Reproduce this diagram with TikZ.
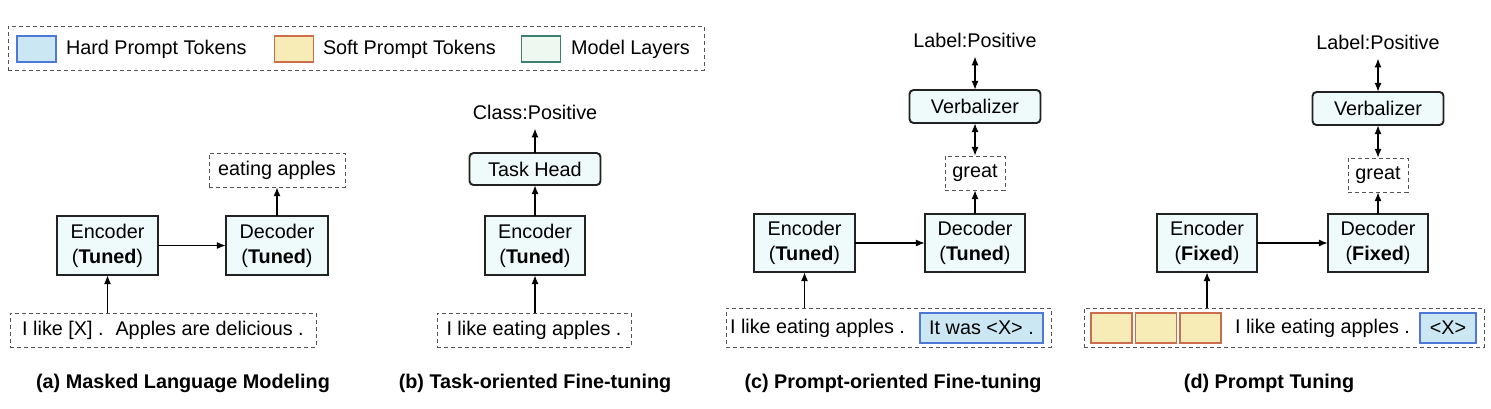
\documentclass[tikz,border=0pt]{standalone}
\usepackage{fontspec}
\setmainfont{Liberation Sans}
\usetikzlibrary{arrows.meta}
\definecolor{layerfill}{HTML}{EEFBFA}
\definecolor{layeredge}{HTML}{222222}
\definecolor{legfill}{HTML}{EEF8F1}
\definecolor{legedge}{HTML}{3F7F72}
\definecolor{hardfill}{HTML}{CBE7F4}
\definecolor{hardedge}{HTML}{4D78D6}
\definecolor{softfill}{HTML}{F7ECB5}
\definecolor{softedge}{HTML}{CC6E4E}
\definecolor{dashgray}{HTML}{555555}
\begin{document}
\begin{tikzpicture}[x=0.5pt,y=-0.5pt,
  every node/.style={font=\fontsize{9.9pt}{12.5pt}\selectfont, inner sep=0pt, outer sep=0pt},
  layer/.style={draw=layeredge, fill=layerfill, line width=0.95pt, align=center},
  headbox/.style={layer, rounded corners=2pt},
  dbox/.style={draw=dashgray, dash pattern=on 2pt off 1.5pt, line width=0.5pt},
  hard/.style={draw=hardedge, fill=hardfill, line width=0.9pt},
  soft/.style={draw=softedge, fill=softfill, line width=0.9pt},
  legl/.style={draw=legedge, fill=legfill, line width=0.9pt},
  labeltxt/.style={outer sep=4.5pt},
  arr/.style={-{Latex[length=4.6pt,width=3.6pt]}, line width=0.9pt},
  darr/.style={{Latex[length=4.6pt,width=3.6pt]}-{Latex[length=4.6pt,width=3.6pt]}, line width=0.9pt},
  captxt/.style={font=\fontsize{9.9pt}{12pt}\selectfont\bfseries}
]
\useasboundingbox (0,0) rectangle (1491,408);

% legend
\node[dbox, minimum width=348pt, minimum height=22pt] (legend) at (356,48) {};
\node[hard, minimum width=19.5pt, minimum height=13pt] (lhard) at (36.5,49) {};
\node[anchor=west] (lhardt) at (66,49) {Hard Prompt Tokens};
\node[soft, minimum width=19.5pt, minimum height=13pt] (lsoft) at (294,49) {};
\node[anchor=west] (lsoftt) at (323,49) {Soft Prompt Tokens};
\node[legl, minimum width=19.5pt, minimum height=13pt] (llayer) at (541,49) {};
\node[anchor=west] (llayert) at (571,49) {Model Layers};

% (a)
\node[layer, minimum width=50.5pt, minimum height=29.5pt] (encA) at (107.5,245.5) {Encoder\\(\textbf{Tuned})};
\node[layer, minimum width=51pt, minimum height=29.5pt] (decA) at (277,245.5) {Decoder\\(\textbf{Tuned})};
\node[dbox, minimum width=68pt, minimum height=17pt] (outA) at (277,170) {eating apples};
\node[dbox, minimum width=153pt, minimum height=17pt] (inA) at (163,330) {I like [X] .\hspace{0.6em}Apples are delicious .};
\node[captxt] (capA) at (183,383) {(a) Masked Language Modeling};
\draw[arr] (inA.north -| encA) -- (encA.south);
\draw[arr] (encA.east) -- (decA.west);
\draw[arr] (decA.north) -- (outA.south -| decA);

% (b)
\node[layer, minimum width=50pt, minimum height=29.5pt] (encB) at (535,245.5) {Encoder\\(\textbf{Tuned})};
\node[headbox, minimum width=65.5pt, minimum height=16pt] (headB) at (535,169) {Task Head};
\node[labeltxt] (clsB) at (535,112) {Class:Positive};
\node[dbox, minimum width=97pt, minimum height=17pt] (inB) at (534,330) {I like eating apples .};
\node[captxt] (capB) at (535,383) {(b) Task-oriented Fine-tuning};
\draw[arr] (inB.north -| encB) -- (encB.south);
\draw[arr] (encB.north) -- (headB.south);
\draw[arr] (headB.north) -- (clsB.south);

% (c)
\node[layer, minimum width=50.5pt, minimum height=29pt] (encC) at (804.5,243) {Encoder\\(\textbf{Tuned})};
\node[layer, minimum width=50pt, minimum height=29pt] (decC) at (975,243) {Decoder\\(\textbf{Tuned})};
\node[dbox, minimum width=30pt, minimum height=17pt] (greatC) at (975,173) {great};
\node[headbox, minimum width=65.5pt, minimum height=16.5pt] (verbC) at (975,106.5) {Verbalizer};
\node[labeltxt] (lblC) at (975,40) {Label:Positive};
\node[dbox, minimum width=162.5pt, minimum height=19.5pt] (inC) at (888.5,327.5) {};
\node[anchor=west] (txtC) at (730,328) {I like eating apples .};
\node[hard, minimum width=61.5pt, minimum height=15pt] (blueC) at (981.5,328) {It was <X> .};
\node[captxt] (capC) at (893,383) {(c) Prompt-oriented Fine-tuning};
\draw[arr] (inC.north -| encC) -- (encC.south);
\draw[arr] (encC.east) -- (decC.west);
\draw[arr] (decC.north) -- (greatC.south);
\draw[darr] (greatC.north) -- (verbC.south);
\draw[darr] (verbC.north) -- (lblC.south);

% (d)
\node[layer, minimum width=50pt, minimum height=29pt] (encD) at (1207,243) {Encoder\\(\textbf{Fixed})};
\node[layer, minimum width=50pt, minimum height=29pt] (decD) at (1378,243) {Decoder\\(\textbf{Fixed})};
\node[dbox, minimum width=30pt, minimum height=17pt] (greatD) at (1378,175) {great};
\node[headbox, minimum width=65.5pt, minimum height=16.5pt] (verbD) at (1378,108.5) {Verbalizer};
\node[labeltxt] (lblD) at (1378,42) {Label:Positive};
\node[dbox, minimum width=200pt, minimum height=19.5pt] (inD) at (1284,327.5) {};
\node[soft, minimum width=20.5pt, minimum height=15pt] (s1) at (1111.5,328) {};
\node[soft, minimum width=20.5pt, minimum height=15pt] (s2) at (1156,328) {};
\node[soft, minimum width=20.5pt, minimum height=15pt] (s3) at (1200.5,328) {};
\node[anchor=west] (txtD) at (1235,328) {I like eating apples .};
\node[hard, minimum width=28pt, minimum height=15pt] (blueD) at (1448,328) {<X>};
\node[captxt] (capD) at (1269,383) {(d) Prompt Tuning};
\draw[arr] (inD.north -| encD) -- (encD.south);
\draw[arr] (encD.east) -- (decD.west);
\draw[arr] (decD.north) -- (greatD.south);
\draw[darr] (greatD.north) -- (verbD.south);
\draw[darr] (verbD.north) -- (lblD.south);
\end{tikzpicture}
\end{document}
